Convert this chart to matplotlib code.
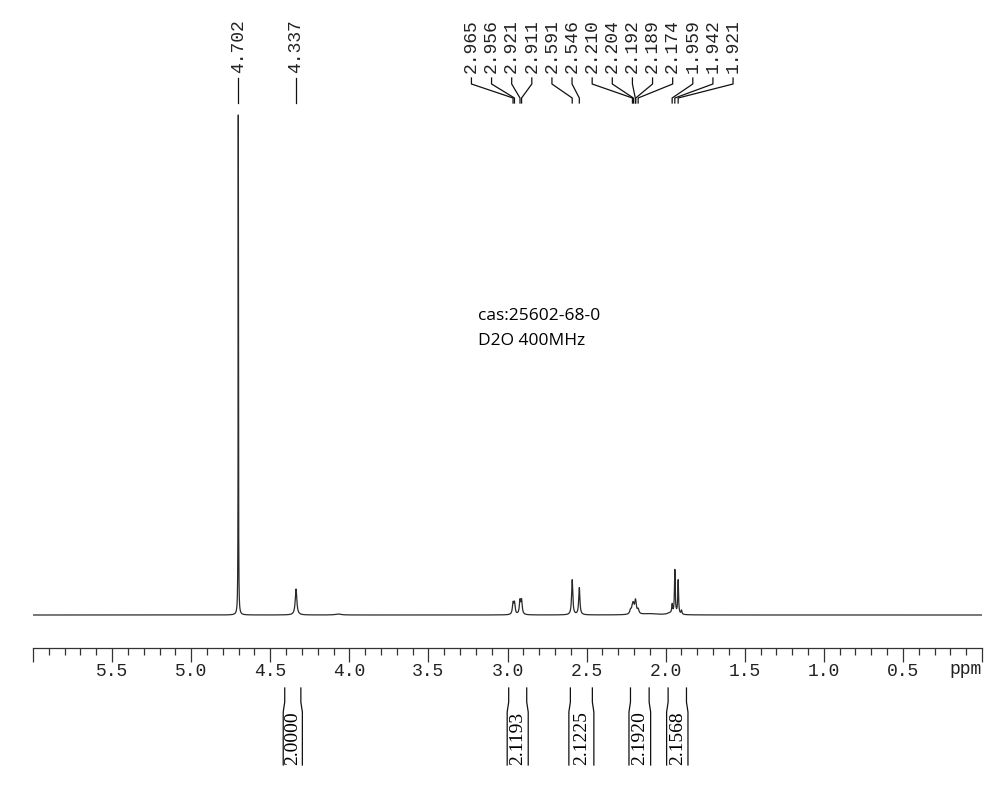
import numpy as np
from matplotlib import pyplot as plt
from matplotlib.ticker import MultipleLocator, FixedLocator

# peak list: position (ppm), height (px above baseline), half width (ppm)
peak_ppm = [4.702, 4.337, 4.07,
            2.965, 2.956, 2.921, 2.911,
            2.591, 2.546,
            2.222, 2.210, 2.204, 2.192, 2.189, 2.174, 2.10,
            1.975, 1.959, 1.942, 1.921, 1.900]
peak_hgt = [500, 26, 1.0,
            11.0, 11.0, 13.5, 13.5,
            35, 27,
            4.0, 7.0, 7.0, 8.5, 6.0, 4.5, 1.2,
            1.5, 9.0, 44, 34, 4.0]
peak_wid = [0.0012, 0.0060, 0.02,
            0.0048, 0.0048, 0.0048, 0.0048,
            0.0045, 0.0045,
            0.0060, 0.0055, 0.0055, 0.0055, 0.0055, 0.0060, 0.06,
            0.02, 0.0032, 0.0030, 0.0030, 0.0032]

# labels on top
single_labels = [4.702, 4.337]
multi_labels = [2.965, 2.956, 2.921, 2.911, 2.591, 2.546, 2.210,
                2.204, 2.192, 2.189, 2.174, 1.959, 1.942, 1.921]

# integrals: (start ppm, end ppm, value)
int_lo = [4.418, 3.002, 2.612, 2.232, 1.994]
int_hi = [4.297, 2.869, 2.454, 2.095, 1.859]
int_val = ['2.0000', '2.1193', '2.1225', '2.1920', '2.1568']

W, H = 1002, 799
x0_px, x1_px = 33, 982
baseline = 615
ppm_per_px = 6.0 / (x1_px - x0_px)

fig = plt.figure(figsize=(W / 100, H / 100), dpi=100)
ax = fig.add_axes([x0_px / W, 0, (x1_px - x0_px) / W, 1])
ax.set_xlim(6.0, 0.0)
ax.set_ylim(H, 0)
for s in ['top', 'left', 'right']:
    ax.spines[s].set_visible(False)
ax.patch.set_visible(False)

# spectrum
x = np.linspace(6.0, 0.0, 120001)
y = np.zeros_like(x)
for p, h, w in zip(peak_ppm, peak_hgt, peak_wid):
    y += h * w**2 / ((x - p)**2 + w**2)
ax.plot(x, baseline - y, color='#2a2a2a', lw=0.9)

# axis
ax.spines['bottom'].set_position(('data', 648))
ax.spines['bottom'].set_color('#333333')
ax.spines['bottom'].set_linewidth(0.9)
ax.yaxis.set_visible(False)
majors = np.arange(0, 6.01, 0.5)
ax.xaxis.set_major_locator(FixedLocator(majors))
ax.xaxis.set_minor_locator(MultipleLocator(0.1))
ax.set_xticklabels(['' if (m < 0.01 or m > 5.99) else '%.1f' % m for m in majors],
                   family='Liberation Mono', fontsize=13, color='#222222')
ax.tick_params(axis='x', which='major', direction='out', length=10, width=0.9,
               color='#333333', pad=1)
ax.tick_params(axis='x', which='minor', direction='out', length=5, width=0.9,
               color='#333333')
ax.text(0.0, 670, 'ppm', family='Liberation Mono', fontsize=13,
        color='#222222', ha='right', va='center')

# top peak labels
lab_kw = dict(family='Liberation Mono', fontsize=13, rotation=90,
              ha='center', va='bottom', color='#222222')
for p in single_labels:
    ax.text(p, 73, '%.3f' % p, **lab_kw)
    ax.plot([p, p], [78, 103], color='#111111', lw=0.9)

lab_x = np.linspace(3.228, 1.574, len(multi_labels))
for lx, p in zip(lab_x, multi_labels):
    ax.text(lx, 73, '%.3f' % p, **lab_kw)
    ax.plot([lx, lx, p, p], [78, 84, 98, 103], color='#111111', lw=0.9)

# integrals
d = 1.5 * ppm_per_px
for a, b, v in zip(int_lo, int_hi, int_val):
    ax.plot([a - d, a - d, a, a], [688, 702, 712, 765], color='#111111', lw=0.9)
    ax.plot([b + d, b + d, b, b], [688, 702, 712, 765], color='#111111', lw=0.9)
    ax.text((a + b) / 2, 765, v, family='Liberation Serif', fontsize=14,
            rotation=90, ha='center', va='bottom')

# annotation
ax.text(3.184, 316, 'cas:25602-68-0', family='Open Sans', fontsize=12.5,
        ha='left', va='center')
ax.text(3.184, 341, 'D2O 400MHz', family='Open Sans', fontsize=12.5,
        ha='left', va='center')

fig.savefig('out.png', dpi=100)
